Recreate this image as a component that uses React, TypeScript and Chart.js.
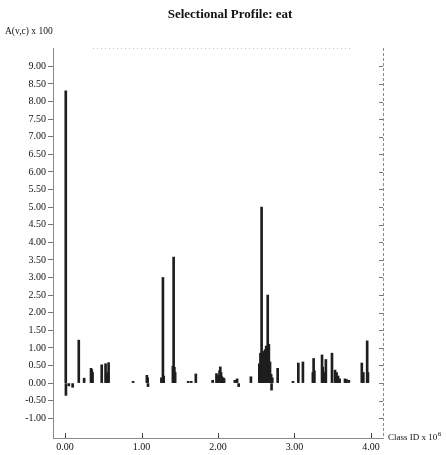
import { useEffect, useRef } from "react";
import { Chart, registerables } from "chart.js";
Chart.register(...registerables);

// Class IDs (x 10^6) and selectional association values A(v,c) x 100
const classIds = [
  0.01, 0.012, 0.05, 0.10, 0.18, 0.25, 0.34, 0.35, 0.36, 0.48, 0.53, 0.54, 0.55, 0.56, 0.57,
  0.89, 1.07, 1.08, 1.085, 1.26, 1.28, 1.29, 1.41, 1.42, 1.43, 1.44,
  1.61, 1.65, 1.71, 1.93, 1.98, 1.99, 2.00, 2.02, 2.03, 2.04, 2.05, 2.07, 2.08,
  2.22, 2.25, 2.27, 2.43,
  2.54, 2.555, 2.57, 2.585, 2.60, 2.615, 2.63, 2.65, 2.665, 2.68, 2.695, 2.70, 2.71,
  2.78, 2.98, 3.05, 3.11,
  3.24, 3.25, 3.26, 3.36, 3.37, 3.40, 3.41, 3.49, 3.53, 3.55, 3.57, 3.59, 3.66, 3.68, 3.71,
  3.88, 3.90, 3.95, 3.96,
];
const values = [
  8.30, -0.35, -0.08, -0.12, 1.22, 0.14, 0.42, 0.38, 0.30, 0.52, 0.55, 0.20, 0.25, 0.30, 0.58,
  0.05, 0.22, 0.15, -0.10, 0.15, 3.00, 0.20, 0.48, 3.58, 0.45, 0.30,
  0.05, 0.05, 0.26, 0.08, 0.27, 0.20, 0.22, 0.35, 0.46, 0.30, 0.18, 0.15, 0.12,
  0.08, 0.12, -0.10, 0.18,
  0.55, 0.85, 5.00, 0.85, 0.90, 0.95, 1.05, 2.50, 1.10, 0.60, 0.25, -0.20, 0.15,
  0.42, 0.05, 0.57, 0.60,
  0.30, 0.70, 0.35, 0.80, 0.45, 0.30, 0.67, 0.85, 0.37, 0.30, 0.20, 0.12, 0.12, 0.10, 0.08,
  0.57, 0.30, 1.20, 0.30,
];

const yTickValues = [-1, -0.5, 0, 0.5, 1, 1.5, 2, 2.5, 3, 3.5, 4, 4.5, 5, 5.5, 6, 6.5, 7, 7.5, 8, 8.5, 9];
const yTickLabels = ["-1.00", "-0.50", "0.00", "0.50", "1.00", "1.50", "2.00", "2.50", "3.00", "3.50", "4.00",
  "4.50", "5.00", "5.50", "6.00", "6.50", "7.00", "7.50", "8.00", "8.50", "9.00"];
const xTickValues = [0, 1, 2, 3, 4];
const xTickLabels = ["0.00", "1.00", "2.00", "3.00", "4.00"];

const titleText = "Selectional Profile: eat";
const yAxisTitle = "A(v,c) x 100";
const xAxisTitle = "Class ID x 10";
const xAxisTitleExp = "6";

const SERIF = '"Liberation Serif", "DejaVu Serif", serif';

const decor = {
  id: "decor",
  afterDraw(chart: any) {
    const { ctx, chartArea: a, scales } = chart;
    const ys = scales.y;
    const xs = scales.x;
    ctx.save();
    // right axis
    ctx.strokeStyle = "#8a8a8a";
    ctx.lineWidth = 1;
    ctx.setLineDash([3, 2]);
    ctx.beginPath();
    ctx.moveTo(a.right + 0.5, a.top);
    ctx.lineTo(a.right + 0.5, a.bottom);
    ctx.stroke();
    // top dotted border
    ctx.strokeStyle = "#c4c4c4";
    ctx.setLineDash([1, 3]);
    ctx.beginPath();
    ctx.moveTo(a.left + 40, a.top + 0.5);
    ctx.lineTo(a.right - 30, a.top + 0.5);
    ctx.stroke();
    ctx.setLineDash([]);
    // right ticks (inward)
    ctx.strokeStyle = "#777";
    yTickValues.forEach((v) => {
      const py = Math.round(ys.getPixelForValue(v)) + 0.5;
      ctx.beginPath();
      ctx.moveTo(a.right - 4, py);
      ctx.lineTo(a.right, py);
      ctx.stroke();
    });
    // x ticks (inward)
    ctx.strokeStyle = "#444";
    xTickValues.forEach((v) => {
      const px = Math.round(xs.getPixelForValue(v)) + 0.5;
      ctx.beginPath();
      ctx.moveTo(px, a.bottom);
      ctx.lineTo(px, a.bottom - 5);
      ctx.stroke();
    });
    // titles
    ctx.fillStyle = "#111";
    ctx.textBaseline = "middle";
    ctx.textAlign = "center";
    ctx.font = `bold 13px ${SERIF}`;
    ctx.fillText(titleText, 230, 15);
    ctx.textAlign = "left";
    ctx.font = `9.5px ${SERIF}`;
    ctx.fillText(yAxisTitle, 5, 31);
    ctx.font = `9px ${SERIF}`;
    const tx = a.right + 5;
    ctx.fillText(xAxisTitle, tx, a.bottom);
    const w = ctx.measureText(xAxisTitle).width;
    ctx.font = `7px ${SERIF}`;
    ctx.fillText(xAxisTitleExp, tx + w + 0.5, a.bottom - 4);
    ctx.restore();
  },
};

export default function App() {
  const ref = useRef<HTMLCanvasElement | null>(null);
  useEffect(() => {
    if (!ref.current) return;
    const data = classIds.map((x, i) => ({ x, y: values[i] }));
    const chart = new Chart(ref.current, {
      type: "bar",
      data: {
        datasets: [
          {
            data: data as any,
            backgroundColor: "#1e1e1e",
            borderWidth: 0,
            barThickness: 2,
          },
        ],
      },
      options: {
        animation: false,
        responsive: false,
        layout: { padding: { top: 48, right: 63, left: 0, bottom: 0 } },
        plugins: { legend: { display: false }, tooltip: { enabled: false }, title: { display: false } },
        scales: {
          x: {
            type: "linear",
            min: -0.157,
            max: 4.157,
            offset: false,
            afterBuildTicks: (s: any) => {
              s.ticks = xTickValues.map((v) => ({ value: v }));
            },
            afterFit: (s: any) => {
              s.height = 17;
            },
            ticks: {
              autoSkip: false,
              maxRotation: 0,
              padding: 3,
              color: "#111",
              font: { family: SERIF, size: 10 },
              callback: (v: any) => xTickLabels[xTickValues.indexOf(Number(v))] ?? "",
            },
            grid: { display: false, drawTicks: false },
            border: { display: true, color: "#8a8a8a", dash: [4, 2] },
          },
          y: {
            type: "linear",
            min: -1.56,
            max: 9.52,
            afterBuildTicks: (s: any) => {
              s.ticks = yTickValues.map((v) => ({ value: v }));
            },
            afterFit: (s: any) => {
              s.width = 53;
            },
            ticks: {
              autoSkip: false,
              padding: 2,
              color: "#111",
              font: { family: SERIF, size: 10 },
              callback: (v: any) => yTickLabels[yTickValues.indexOf(Number(v))] ?? "",
            },
            grid: { drawOnChartArea: false, drawTicks: true, tickLength: 5, color: "#777" },
            border: { display: true, color: "#8a8a8a", dash: [3, 2] },
          },
        },
      },
      plugins: [decor],
    });
    return () => chart.destroy();
  }, []);
  return (
    <div style={{ position: "fixed", left: 0, top: 0, width: 446, height: 455, background: "#fff" }}>
      <canvas ref={ref} width={446} height={455} style={{ display: "block" }} />
    </div>
  );
}
